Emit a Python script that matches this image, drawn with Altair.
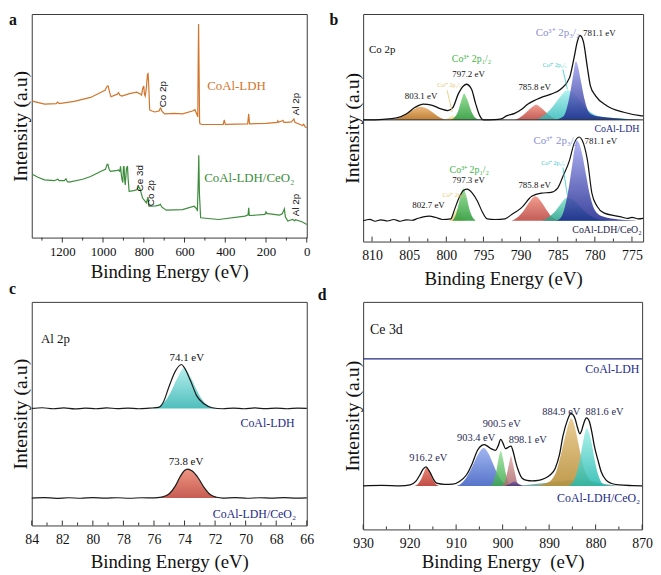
import altair as alt
import pandas as pd

SERIF = "Liberation Serif"
SANS = "Liberation Sans"
NAVY = "#232a86"
INK = "#111111"

# ---------------- Panel a : survey spectra (binding energy eV, intensity a.u.) ----------------
A_MAJOR = [1200, 1000, 800, 600, 400, 200, 0]
A_MINOR = [1300, 1100, 900, 700, 500, 300, 100]
A_LDH = [(1347, 138), (1287, 135), (1230, 135.5), (1222, 137), (1215, 135.5), (1142, 137.7), (1061, 141.7),
         (1000, 148), (990, 149), (980, 153), (975, 153.3), (968, 147), (961, 142.3), (930, 145), (924, 146.5),
         (918, 144), (908, 143), (870, 145.5), (835, 147), (815, 145), (811, 144), (805, 151), (800, 153.3),
         (797, 145), (793, 143), (788, 150), (782, 165), (779, 165.7), (776, 155), (771, 129), (760, 128),
         (746, 127), (725, 128), (720, 130.5), (717, 131), (712, 128), (698, 125), (650, 125.5), (610, 125),
         (561, 128), (549, 129.3), (540, 125), (535, 122), (533, 175), (531, 216), (529, 175), (526, 117),
         (524, 115), (513, 114.3), (410, 114.5), (405, 119), (400, 114.5), (290, 115), (285, 125), (281, 115),
         (200, 115.5), (145, 116.5), (142, 118), (138, 116.5), (120, 118), (117, 118.5), (112, 116.5),
         (100, 116.5), (75, 117), (63, 120), (58, 116.5), (30, 114), (21, 113.3), (15, 114.5), (8, 112), (0, 111)]
A_CEO2 = [(1347, 64), (1320, 61), (1287, 58.3), (1240, 57.5), (1222, 59), (1215, 57.5), (1190, 57.5),
          (1182, 59.5), (1175, 56.5), (1166, 56), (1100, 59), (1061, 61.7), (1010, 67), (988, 69), (980, 74),
          (976, 74), (970, 69), (964, 67), (930, 68), (924, 68.3), (918, 67), (914, 72), (910, 63), (907, 59),
          (903, 55.7), (900, 71), (897, 72.3), (894, 59), (891, 53.3), (885, 70), (880, 72.3), (877, 60),
          (872, 46.7), (850, 47.5), (835, 48.3), (825, 51.7), (818, 49), (806, 40), (787, 35), (782, 39),
          (779, 41), (775, 31.7), (771, 31.7), (740, 32), (722, 33), (719, 33.7), (712, 31), (690, 27.7),
          (610, 28.3), (553, 31.7), (540, 29), (537, 26.7), (533, 55), (530, 83.3), (527, 45), (521, 20),
          (432, 18.3), (303, 21.7), (288, 23), (285, 30), (282, 22.3), (276, 22.3), (205, 23.5), (200, 26),
          (195, 24), (190, 24.3), (134, 22.7), (120, 24), (112, 28), (110, 29), (105, 21), (93, 16.7),
          (75, 18), (69, 18.3), (60, 17), (55, 18), (21, 15.7), (0, 13.3)]
A_LABELS = [("Co 2p", 706, 145), ("Al 2p", 53, 135), ("Ce 3d", 818, 60), ("Co 2p", 764, 45), ("Al 2p", 53, 33)]
A_NAMES = [("CoAl-LDH", 489, 153), ("CoAl-LDH/CeO₂", 503, 60)]

# ---------------- Panel b : Co 2p ----------------
B_MAJOR = [810, 805, 800, 795, 790, 785, 780, 775]
B_MINOR = [807.5, 802.5, 797.5, 792.5, 787.5, 782.5, 777.5]
B_UP_BASE = 123
B_LO_BASE = 21
B_UP_ENV = [(811.2, 123), (810.7, 123), (808.5, 123.6), (806.7, 125), (805.4, 129), (804.2, 135.7), (803.1, 139),
            (802.0, 138), (800.7, 134), (799.8, 132.3), (799.1, 135.7), (798.4, 149), (797.7, 157.3), (797.3, 159),
            (796.6, 154), (796.1, 140.7), (795.5, 127.3), (795.0, 123), (793.5, 123.2), (792.6, 124),
            (791.9, 127), (790.8, 129.5), (789.9, 133.5), (789.0, 139), (787.2, 145.7), (785.9, 149),
            (784.6, 154), (783.4, 165.7), (782.8, 185.7), (782.35, 202.3), (782.0, 208.3), (781.55, 202.3),
            (781.0, 175.7), (780.6, 157.3), (779.9, 147.3), (778.4, 137.3), (776.1, 130.7), (773.9, 127.3),
            (773.5, 127)]
B_UP_ORANGE = [(807.5, 123), (806.5, 125), (805.5, 128.5), (804.5, 133), (803.6, 136.3), (802.8, 135),
               (802.0, 131.5), (801.2, 127), (800.4, 124), (799.6, 123)]
B_UP_YELLOW = [(800.3, 123), (799.6, 125.5), (799.1, 127.3), (798.6, 125.5), (797.9, 123)]
B_UP_GREEN = [(799.5, 123), (798.9, 125.5), (798.4, 132), (798.0, 142), (797.6, 149.7), (797.2, 144),
              (796.7, 133), (796.2, 126), (795.6, 123.5), (795.0, 123)]
B_UP_RED = [(791.0, 123), (790.2, 125), (789.4, 129.5), (788.6, 135), (787.9, 138.3), (787.2, 135),
            (786.4, 129.5), (785.6, 125), (784.8, 123)]
B_UP_CYAN = [(788.3, 123), (787.4, 125), (786.6, 129), (785.7, 136), (784.8, 145), (784.2, 150.5),
             (783.67, 153), (783.1, 151.5), (782.4, 146), (781.6, 138.5), (780.8, 132), (780.0, 128),
             (778.8, 126), (777.0, 124.8), (775.5, 124), (774.4, 123.5), (773.6, 123.2)]
B_UP_BLUE = [(785.5, 123), (784.6, 125), (784.1, 128), (783.6, 140), (783.1, 160), (782.8, 174), (782.56, 182.3),
             (782.3, 178), (781.9, 163), (781.4, 144), (780.9, 132), (780.3, 128), (779.5, 126.5),
             (778.3, 125.5), (776.8, 124.5), (775.3, 123.7), (774.0, 123.2)]
B_LO_ENV = [(811.2, 21), (810.3, 22.5), (809.6, 20.5), (808.8, 22), (807.9, 20.8), (807.1, 22.3), (806.2, 20.5),
            (805.4, 22), (804.6, 21.5), (803.8, 23.5), (803.1, 25), (802.3, 25.7), (801.4, 24.3), (800.5, 22.3),
            (799.4, 23), (798.9, 32.3), (798.3, 44), (797.7, 51.7), (797.2, 53), (796.5, 49), (795.8, 40.7),
            (795.2, 30.7), (794.5, 23), (793.4, 22.3), (792.1, 23), (791.2, 27.3), (789.9, 34), (788.5, 45.7),
            (787.2, 49), (785.9, 49.7), (785.0, 54), (784.3, 65.7), (783.4, 82.3), (782.8, 99), (782.1, 105.7),
            (781.7, 102.3), (781.0, 82.3), (780.4, 49), (779.7, 35.7), (778.8, 29), (777.0, 25.7),
            (776.3, 24.6), (775.6, 23.4), (775.0, 24.5), (774.2, 23), (773.5, 23.5)]
B_LO_GREEN = [(799.2, 21), (798.9, 24), (798.5, 33), (798.1, 45), (797.7, 54), (797.3, 46), (796.9, 33),
              (796.5, 25), (796.1, 21.5)]
B_LO_YELLOW = [(799.6, 21), (799.1, 26), (798.6, 33), (798.2, 30), (797.8, 24), (797.4, 21)]
B_LO_RED = [(791.2, 21), (790.5, 24), (789.6, 31), (788.7, 41), (788.0, 45.7), (787.3, 41), (786.5, 32),
            (785.8, 25), (785.0, 21.5)]
B_LO_TEAL = [(787.2, 21), (786.3, 24), (785.4, 30), (784.6, 38), (783.8, 44), (783.1, 43), (782.3, 38),
             (781.4, 31), (780.5, 25.5), (779.5, 22.5), (778.0, 21.2), (776.5, 20.8)]
B_LO_BLUE = [(785.2, 21), (784.5, 25), (784.0, 36), (783.5, 55), (783.0, 80), (782.7, 95), (782.45, 102.3),
             (782.1, 99), (781.7, 88), (781.2, 68), (780.7, 48), (780.2, 35), (779.6, 28), (778.8, 25),
             (777.5, 23), (776.0, 21.8), (774.5, 21.2)]
B_ARROWS = [(784.3, 174, 783.7, 154, "#35c9c9"), (784.3, 75, 783.7, 47, "#35c9c9"),
            (799.9, 153, 799.2, 131, "#e6c66a")]

# ---------------- Panel c : Al 2p ----------------
C_MAJOR = [84, 82, 80, 78, 76, 74, 72, 70, 68, 66]
C_MINOR = [83, 81, 79, 77, 75, 73, 71, 69, 67]
C_UP_BASE = 118.3
C_LO_BASE = 27.7
C_UP_ENV = [(84, 118.3), (83.3, 119), (82.6, 118), (81.9, 118.8), (81.2, 117.8), (80.5, 118.6), (79.8, 118),
            (79.1, 118.9), (78.4, 118.1), (77.7, 118.7), (77, 118), (76.3, 118.6), (75.7, 119.3), (75.4, 124.3),
            (75.0, 141), (74.6, 156), (74.2, 162.7), (74.0, 159.3), (73.6, 146), (73.2, 131), (72.7, 122.7),
            (72.2, 119), (71.5, 118), (70.8, 118.7), (70.1, 118), (69.4, 118.8), (68.7, 118.1), (68, 118.6),
            (67.3, 118), (66.6, 118.7), (66, 118.3)]
C_UP_CYAN = [(76.2, 118.3), (75.7, 120), (75.3, 125), (74.9, 135), (74.5, 148), (74.04, 159.3), (73.6, 150),
             (73.2, 137), (72.8, 126), (72.4, 120.5), (71.9, 118.6), (71.5, 118.3)]
C_LO_ENV = [(84, 27.7), (83.2, 28.2), (82.4, 27.4), (81.6, 28), (80.8, 27.5), (80, 28.1), (79.2, 27.6),
            (78.4, 28), (77.6, 27.5), (76.8, 28), (76, 27.8), (75.5, 28.6), (75.0, 32), (74.6, 40), (74.3, 49),
            (74.0, 55.5), (73.8, 57), (73.5, 55), (73.1, 48), (72.7, 38), (72.3, 31), (71.9, 28.5), (71.5, 27.7),
            (70.7, 28.2), (69.9, 27.5), (69.1, 28), (68.3, 27.6), (67.5, 28.1), (66.7, 27.6), (66, 27.8)]
C_LO_RED = [(75.9, 27.7), (75.5, 28.6), (75.0, 32), (74.6, 40), (74.3, 49), (74.0, 55.5), (73.8, 57),
            (73.5, 55), (73.1, 48), (72.7, 38), (72.3, 31), (71.9, 28.5), (71.5, 27.7)]

# ---------------- Panel d : Ce 3d ----------------
D_MAJOR = [930, 920, 910, 900, 890, 880, 870]
D_MINOR = [925, 915, 905, 895, 885, 875]
D_BASE = 44
D_UP_LINE = [(930, 172.3), (900, 172.3), (870, 172.3)]
D_ENV = [(930, 44), (926, 44.5), (922, 44), (919.9, 45), (918.6, 49), (917.8, 55), (917.1, 61), (916.5, 63.3),
         (915.9, 60), (915.5, 56.7), (914.8, 50), (914.2, 46.7), (912.5, 45.5), (910.7, 45.7), (909.3, 48.5),
         (907.8, 55), (906.5, 67), (905.4, 80), (904.5, 85), (904.0, 85.7), (903.2, 84), (902.5, 81.7),
         (901.5, 80), (901.0, 84), (900.4, 91), (899.9, 87), (899.4, 81.7), (898.8, 83), (898.2, 84.3),
         (897.7, 78), (897.2, 68.3), (896.5, 58), (895.8, 51.7), (894.8, 49.5), (893.7, 49), (892.3, 49.5),
         (890.9, 51.7), (889.8, 55), (888.7, 61.7), (887.8, 75), (887.0, 95), (886.1, 110), (885.3, 117.3),
         (884.8, 115.5), (884.4, 111.7), (883.9, 103), (883.4, 96.7), (883.0, 100), (882.7, 105),
         (882.3, 110.5), (882.0, 112.7), (881.6, 111.5), (881.3, 108.3), (880.8, 98), (880.3, 85),
         (879.5, 70), (878.8, 58.3), (877.8, 50), (876.7, 46.7), (875, 45), (872, 44.3), (870, 44)]
D_TEAL_BG = [(897, 44), (893, 46), (889, 48), (885, 50), (881, 49), (878, 46), (875, 44)]
D_RED = [(919, 44), (918.2, 46), (917.5, 51), (916.8, 59), (916.3, 63.3), (915.8, 59), (915.1, 51), (914.4, 46),
         (913.6, 44)]
D_BLUE = [(910, 44), (909, 46), (908, 51), (907, 59), (906, 69), (905, 78), (904.1, 82.3), (903.2, 78),
          (902.2, 68), (901.2, 57), (900.2, 49), (899.2, 45.5), (898, 44)]
D_GREEN = [(902.7, 44), (902, 48), (901.4, 58), (900.9, 71), (900.4, 79.3), (899.9, 71), (899.4, 58),
           (898.8, 48), (898.1, 44)]
D_MAUVE = [(900.2, 44), (899.6, 47), (899.1, 56), (898.6, 67), (898.2, 74.3), (897.8, 67), (897.3, 56),
           (896.8, 47), (896.1, 44)]
D_PURPLE = [(899.5, 44), (898.5, 46), (897.5, 48.5), (896.5, 46), (895.5, 44)]
D_GOLD = [(893, 44), (891, 46), (889.5, 50), (888.5, 58), (887.5, 75), (886.5, 95), (885.8, 107), (885.3, 112.3),
          (884.8, 109), (884.2, 98), (883.5, 82), (882.8, 67), (882, 56), (881, 49), (880, 46), (878, 44)]
D_CYAN = [(886, 44), (885, 47), (884.2, 55), (883.5, 68), (882.8, 86), (882.3, 98), (881.9, 102.3), (881.5, 99),
          (880.9, 88), (880.2, 70), (879.5, 56), (878.8, 48), (878, 45), (876.5, 44)]
D_PEAKS = [("916.2 eV", 916.0, 72), ("903.4 eV", 905.7, 92), ("900.5 eV", 900.2, 107), ("898.1 eV", 894.6, 90),
           ("884.9 eV", 887.4, 119), ("881.6 eV", 878.1, 119)]


def grad(top, bottom):
    return alt.Gradient(gradient="linear",
                        stops=[alt.GradientStop(color=top, offset=0), alt.GradientStop(color=bottom, offset=1)],
                        x1=1, x2=1, y1=0, y2=1)


def txt(t, ev, val, size, color=INK, align="center", angle=0, font=SERIF, weight="normal"):
    return dict(t=t, ev=ev, val=val, size=size, color=color, align=align, angle=angle, font=font, weight=weight)


def panel(domain, width, height, major, minor, areas, lines, texts, letter, letter_xy, outward,
          lfs, lpad, tpad, xtitle="Binding Energy (eV)", arrows=()):
    xs = alt.Scale(domain=domain, reverse=True, nice=False, zero=False)
    ys = alt.Scale(domain=[0, height], nice=False, zero=False)
    xax = alt.Axis(values=major, title=xtitle, ticks=False, tickSize=0, domain=False, grid=False,
                   labelFont=SERIF, labelFontSize=lfs, labelColor=INK, labelPadding=lpad, labelFlush=False,
                   labelOverlap=False, format="d", titleFont=SERIF, titleFontSize=19, titleFontWeight="normal",
                   titleColor=INK, titlePadding=tpad)
    yax = alt.Axis(title="Intensity (a.u)", labels=False, ticks=False, domain=False, grid=False,
                   titleFont=SERIF, titleFontSize=20, titleFontWeight="normal", titleColor=INK, titlePadding=1)
    X = alt.X("ev:Q", scale=xs, axis=xax)
    Y = alt.Y("val:Q", scale=ys, axis=yax)
    layers = []
    for pts, base, top, bot, op in areas:
        df = pd.DataFrame(pts, columns=["ev", "val"])
        df["base"] = base
        layers.append(alt.Chart(df).mark_area(color=grad(top, bot), opacity=op, interpolate="monotone")
                      .encode(X, Y, y2="base:Q"))
    for pts, color, sw, interp in lines:
        df = pd.DataFrame(pts, columns=["ev", "val"])
        layers.append(alt.Chart(df).mark_line(color=color, strokeWidth=sw, interpolate=interp).encode(X, Y))
    for x1, y1, x2, y2, color in arrows:
        df = pd.DataFrame([dict(ev=x1, val=y1, ev2=x2, val2=y2)])
        layers.append(alt.Chart(df).mark_rule(color=color, strokeWidth=0.8)
                      .encode(X, Y, x2="ev2:Q", y2="val2:Q"))
    # tick marks
    for vals, ln in ((major, 5), (minor, 3)):
        df = pd.DataFrame({"ev": vals, "val": [0] * len(vals)})
        y2 = height + ln if outward else height - ln
        layers.append(alt.Chart(df).mark_rule(color="#333", strokeWidth=1)
                      .encode(X, y=alt.value(height), y2=alt.value(y2)))
    for t in texts:
        df = pd.DataFrame([dict(t=t["t"], ev=t["ev"], val=t["val"])])
        layers.append(alt.Chart(df).mark_text(font=t["font"], fontSize=t["size"], color=t["color"],
                                              align=t["align"], baseline="middle", angle=t["angle"],
                                              fontWeight=t["weight"])
                      .encode(X, Y, text="t:N"))
    ldf = pd.DataFrame({"t": [letter]})
    layers.append(alt.Chart(ldf).mark_text(font=SERIF, fontSize=16, fontWeight="bold", color=INK,
                                           align="left", baseline="top")
                  .encode(x=alt.value(letter_xy[0]), y=alt.value(letter_xy[1]), text="t:N"))
    return alt.layer(*layers).properties(width=width, height=height)


# ---- panel a
a_texts = [txt(t, e, v, 10, angle=270, font=SANS) for t, e, v in A_LABELS]
a_texts += [txt(A_NAMES[0][0], A_NAMES[0][1], A_NAMES[0][2], 13, "#d2742a", "left"),
            txt(A_NAMES[1][0], A_NAMES[1][1], A_NAMES[1][2], 13, "#3c8c3c", "left")]
pa = panel([0, 1350], 278, 226, A_MAJOR, A_MINOR, [],
           [(A_LDH, "#d2742a", 1.2, "linear"), (A_CEO2, "#3c8c3c", 1.2, "linear")],
           a_texts, "a", (-23, -2), True, 13, 8, 4)

# ---- panel b
LAV = "#8b8fd6"
GRN = "#3fb548"
b_areas = [
    (B_UP_ORANGE, B_UP_BASE, "#e9b16e", "#b9731f", 0.9),
    (B_UP_YELLOW, B_UP_BASE, "#fbf0b8", "#e6c774", 0.9),
    (B_UP_GREEN, B_UP_BASE, "#8fdc8f", "#2f9b3c", 0.9),
    (B_UP_RED, B_UP_BASE, "#f08a7a", "#b8403a", 0.85),
    (B_UP_CYAN, B_UP_BASE, "#9ff0ee", "#24b6b6", 0.8),
    (B_UP_BLUE, B_UP_BASE, "#a3a6f2", "#1c248c", 0.85),
    (B_LO_YELLOW, B_LO_BASE, "#fbf0b8", "#e6c774", 0.9),
    (B_LO_GREEN, B_LO_BASE, "#8fdc8f", "#2f9b3c", 0.9),
    (B_LO_RED, B_LO_BASE, "#f08a7a", "#b8403a", 0.85),
    (B_LO_TEAL, B_LO_BASE, "#7fe0c8", "#1f9f88", 0.85),
    (B_LO_BLUE, B_LO_BASE, "#a3a6f2", "#1c248c", 0.85),
]
b_lines = [([(811.2, B_UP_BASE), (773.5, B_UP_BASE)], "#222", 1.0, "linear"),
           (B_UP_ENV, INK, 1.3, "monotone"), (B_LO_ENV, INK, 1.2, "monotone")]
b_texts = [
    txt("Co 2p", 810.4, 194, 11, align="left"),
    txt("Co³⁺ 2p₁/₂", 796.6, 184, 10, GRN),
    txt("797.2 eV", 797.0, 169, 9),
    txt("803.1 eV", 803.4, 147, 9),
    txt("Co²⁺ 2p₁/₂", 799.6, 158, 6, "#e6c66a"),
    txt("785.8 eV", 788.1, 156, 9),
    txt("Co²⁺ 2p₃/₂", 785.4, 178, 6, "#35c9c9"),
    txt("Co³⁺ 2p₃/₂", 785.0, 211, 11, LAV),
    txt("781.1 eV", 779.4, 211, 9),
    txt("CoAl-LDH", 774.0, 114, 10, NAVY, "right"),
    txt("Co³⁺ 2p₃/₂", 785.3, 102, 11, LAV),
    txt("781.1 eV", 779.2, 102, 9),
    txt("Co²⁺ 2p₃/₂", 785.6, 79, 6, "#35c9c9"),
    txt("Co³⁺ 2p₁/₂", 796.9, 72, 10, GRN),
    txt("797.3 eV", 797.0, 62, 9),
    txt("785.8 eV", 788.1, 57, 9),
    txt("Co²⁺ 2p₁/₂", 798.9, 47, 6, "#e6c66a"),
    txt("802.7 eV", 802.4, 37, 9),
    txt("CoAl-LDH/CeO₂", 773.7, 12, 10, "#1c1c4a", "right"),
]
pb = panel([773.5, 811.2], 283, 230, B_MAJOR, B_MINOR, b_areas, b_lines, b_texts, "b", (-34, -2), False,
           14, 7, 7, arrows=B_ARROWS)

# ---- panel c
c_areas = [(C_UP_CYAN, C_UP_BASE, "#a8ecea", "#2fb3b0", 0.85),
           (C_LO_RED, C_LO_BASE, "#ec8a74", "#c04a40", 0.9)]
c_lines = [(C_UP_ENV, "#1a1a1a", 1.2, "monotone"), (C_LO_ENV, "#1a1a1a", 1.2, "monotone")]
c_texts = [txt("Al 2p", 83.4, 188, 13, align="left"),
           txt("74.1 eV", 73.85, 169, 11),
           txt("CoAl-LDH", 66.8, 104, 12, NAVY, "right"),
           txt("73.8 eV", 73.9, 64, 11),
           txt("CoAl-LDH/CeO₂", 66.7, 12, 12, NAVY, "right")]
pc = panel([66, 84], 278, 226, C_MAJOR, C_MINOR, c_areas, c_lines, c_texts, "c", (-23, -21), False,
           14, 7, 7)

# ---- panel d
DLAB = "#2b2b55"
d_areas = [(D_TEAL_BG, D_BASE, "#3aa898", "#1b6f66", 0.6),
           (D_RED, D_BASE, "#ee7a6a", "#b83a32", 0.9),
           (D_BLUE, D_BASE, "#8fa8ee", "#3a5cc0", 0.85),
           (D_GREEN, D_BASE, "#9be09b", "#3aa84a", 0.85),
           (D_MAUVE, D_BASE, "#e4aaa4", "#a86a70", 0.85),
           (D_PURPLE, D_BASE, "#7a5aa8", "#3a2a78", 0.8),
           (D_GOLD, D_BASE, "#e8c78a", "#b8903a", 0.9),
           (D_CYAN, D_BASE, "#9ff0e8", "#22b8ae", 0.85)]
d_lines = [(D_UP_LINE, NAVY, 1.3, "linear"), (D_ENV, INK, 1.3, "monotone")]
d_texts = [txt("Ce 3d", 928.5, 202, 14, align="left")]
d_texts += [txt(t, e, v, 10.5, DLAB) for t, e, v in D_PEAKS]
d_texts += [txt("CoAl-LDH", 870.6, 162, 12, NAVY, "right"),
            txt("CoAl-LDH/CeO₂", 870.4, 32, 12, NAVY, "right")]
pd_ = panel([870, 930], 282, 230, D_MAJOR, D_MINOR, d_areas, d_lines, d_texts, "d", (-46, -15), False,
            14, 7, 3, xtitle="Binding Energy\u00a0 (eV)")

chart = (alt.concat(pa, pb, pc, pd_, columns=2, spacing={"row": 61, "column": 57}, bounds="flush",
                    align="each")
         .properties(padding={"left": 0, "top": 0, "right": 0, "bottom": 0}, background="white")
         .configure_view(stroke="#3a3a3a", strokeWidth=1))

chart.save("out.html", embed_options={"renderer": "svg", "actions": False})
